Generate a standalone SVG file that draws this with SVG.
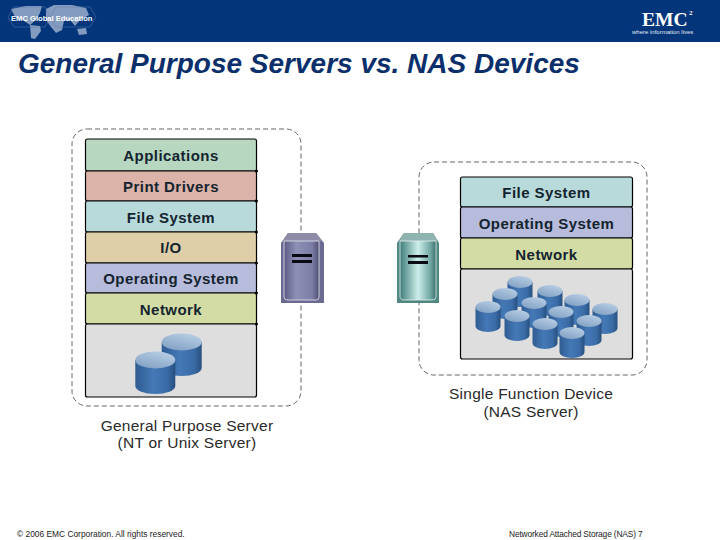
<svg xmlns="http://www.w3.org/2000/svg" xmlns:xlink="http://www.w3.org/1999/xlink" width="720" height="540" viewBox="0 0 720 540">
<style>
.lbl{font:bold 15px "Liberation Sans",Arial,sans-serif;fill:#14242f;text-anchor:middle;letter-spacing:.45px}
.cap{font:15.5px "Liberation Sans",Arial,sans-serif;fill:#2a2a2a;text-anchor:middle;letter-spacing:.25px}
.foot{font:8.4px "Liberation Sans",Arial,sans-serif;fill:#222}
.dash{fill:none;stroke:#666;stroke-width:1;stroke-dasharray:5 3}
.box{stroke:#000;stroke-width:1.2}
.bar{fill:#0a0a14}
.joint{fill:#000}
</style>
<defs>
<linearGradient id="cb" x1="0" x2="1" y1="0" y2="0"><stop offset="0" stop-color="#2f5c92"/><stop offset=".45" stop-color="#4479b6"/><stop offset=".8" stop-color="#3a6ba6"/><stop offset="1" stop-color="#28507f"/></linearGradient>
<linearGradient id="ct" x1="0" x2="0.6" y1="1" y2="0"><stop offset="0" stop-color="#7c9cc0"/><stop offset="1" stop-color="#b4cbe2"/></linearGradient>
<linearGradient id="s1" x1="0" x2="1" y1="0" y2="0"><stop offset="0" stop-color="#5b5b85"/><stop offset=".35" stop-color="#8f90b6"/><stop offset=".8" stop-color="#7c7da6"/><stop offset="1" stop-color="#4f4f72"/></linearGradient>
<linearGradient id="s2" x1="0" x2="1" y1="0" y2="0"><stop offset="0" stop-color="#3f7c78"/><stop offset=".5" stop-color="#cdeeea"/><stop offset=".85" stop-color="#6ea6a2"/><stop offset="1" stop-color="#3c6e6b"/></linearGradient>
<g id="cyl"><path d="M-12.5 0V19A12.5 6 0 0 0 12.5 19V0Z" fill="url(#cb)"/><ellipse rx="12.5" ry="6" fill="url(#ct)"/></g>
<g id="cylL"><path d="M-20 0V26A20 8 0 0 0 20 26V0Z" fill="url(#cb)"/><ellipse rx="20" ry="8.5" fill="url(#ct)"/></g>
</defs>

<g id="header">
<rect width="720" height="42" fill="#03357a"/>
<g id="map" fill="#a3b5d0" opacity=".8">
<path d="M11 9 26 6 42 6 40 13 36 20 30 25 24 21 15 17Z"/>
<path d="M30 25 40 26 41 31 35 39 31 38Z"/>
<path d="M46 9 54 5 72 5 86 8 89 15 80 20 75 26 70 20 64 21 62 30 56 33 51 27 46 20Z"/>
<path d="M77 29 86 28 87 34 79 35Z"/>
</g>
<g fill="none" stroke="#5f7fb0" stroke-width=".5"><path d="M8 17 14 7H45L50 17 45 27H14Z"/><path d="M50 17 56 7H90L96 17 90 27H56Z"/></g>
<text x="11" y="21" style="font:bold 7.6px 'Liberation Sans',Arial,sans-serif;fill:#fff">EMC Global Education</text>
<text x="642" y="25.5" style="font:bold 19.6px 'Liberation Serif','Times New Roman',serif;fill:#fff">EMC</text>
<text x="689" y="15" style="font:bold 7px 'Liberation Serif',serif;fill:#fff">2</text>
<text x="632" y="33.5" style="font:6px 'Liberation Sans',Arial,sans-serif;fill:#e4eaf4">where information lives</text>
</g>

<text id="title" x="18" y="73" style="font:italic bold 28px 'Liberation Sans',Arial,sans-serif;fill:#0b2f6b">General Purpose Servers vs. NAS Devices</text>

<g id="left-frame"><rect class="dash" x="72" y="129" width="229" height="277" rx="15"/></g>
<g id="right-frame"><rect class="dash" x="419" y="162" width="228" height="213" rx="15"/></g>

<g id="left-stack">
<g id="applications"><rect class="box" x="85.5" y="139" width="171" height="32" rx="2" fill="#b7d7c1"/><text class="lbl" x="171" y="161">Applications</text></g>
<g id="print-drivers"><rect class="box" x="85.5" y="171" width="171" height="30" rx="2" fill="#dcb3a8"/><text class="lbl" x="171" y="192">Print Drivers</text></g>
<g id="file-system-l"><rect class="box" x="85.5" y="201" width="171" height="31" rx="2" fill="#b8dada"/><text class="lbl" x="171" y="223">File System</text></g>
<g id="io"><rect class="box" x="85.5" y="232" width="171" height="31" rx="2" fill="#dfcfa9"/><text class="lbl" x="171" y="253">I/O</text></g>
<g id="os-l"><rect class="box" x="85.5" y="263" width="171" height="30" rx="2" fill="#b8bcdc"/><text class="lbl" x="171" y="284">Operating System</text></g>
<g id="network-l"><rect class="box" x="85.5" y="293" width="171" height="31" rx="2" fill="#d4dca6"/><text class="lbl" x="171" y="315">Network</text></g>
<g id="storage-l"><rect class="box" x="85.5" y="324" width="171" height="73" rx="2" fill="#dedede"/>
<use xlink:href="#cylL" href="#cylL" x="181.7" y="342"/><use xlink:href="#cylL" href="#cylL" x="155.3" y="360"/></g>
<g id="joints-l" class="joint"><circle cx="256.5" cy="171" r="1.5"/><circle cx="256.5" cy="201" r="1.5"/><circle cx="256.5" cy="232" r="1.5"/><circle cx="256.5" cy="263" r="1.5"/><circle cx="256.5" cy="293" r="1.5"/><circle cx="256.5" cy="324" r="1.5"/></g>
</g>

<g id="right-stack">
<g id="file-system-r"><rect class="box" x="460.5" y="177" width="172" height="30" rx="2" fill="#b8dada"/><text class="lbl" x="546.5" y="198">File System</text></g>
<g id="os-r"><rect class="box" x="460.5" y="207" width="172" height="31" rx="2" fill="#b8bcdc"/><text class="lbl" x="546.5" y="229">Operating System</text></g>
<g id="network-r"><rect class="box" x="460.5" y="238" width="172" height="31" rx="2" fill="#d4dca6"/><text class="lbl" x="546.5" y="260">Network</text></g>
<g id="storage-r"><rect class="box" x="460.5" y="269" width="172" height="90" rx="2" fill="#dedede"/>
<use href="#cyl" x="520" y="282"/><use href="#cyl" x="550" y="291"/><use href="#cyl" x="505" y="294"/><use href="#cyl" x="577" y="300"/><use href="#cyl" x="534" y="303"/><use href="#cyl" x="605" y="309"/><use href="#cyl" x="488" y="307"/><use href="#cyl" x="561" y="312"/><use href="#cyl" x="517" y="316"/><use href="#cyl" x="589" y="321"/><use href="#cyl" x="545" y="324"/><use href="#cyl" x="572" y="333"/></g>
</g>

<g id="server-left">
<path d="M281 303V243L288 233H316L324 243V303Z" fill="#6b6b92"/><path d="M288 233H316L322 241H283Z" fill="#8c8ca6"/>
<path d="M284 241H319V297Q319 300 316 300H288Q284 300 284 297Z" fill="url(#s1)" stroke="#e8e8f4" stroke-width=".8"/>
<rect class="bar" x="292" y="254" width="20" height="3"/><rect class="bar" x="292" y="260" width="20" height="3"/>
</g>
<g id="server-right">
<path d="M397 303V243L404 233H433L439 243V303Z" fill="#4f8783"/><path d="M404 233H433L438 241H399Z" fill="#8fb3ae"/>
<path d="M400 241H436V297Q436 300 432 300H405Q400 300 400 297Z" fill="url(#s2)" stroke="#e8f4f2" stroke-width=".8"/>
<rect class="bar" x="408" y="255" width="20" height="2.5"/><rect class="bar" x="408" y="261" width="20" height="3"/>
</g>

<g id="captions">
<text class="cap" x="187" y="431">General Purpose Server</text>
<text class="cap" x="187" y="448">(NT or Unix Server)</text>
<text class="cap" x="531" y="399">Single Function Device</text>
<text class="cap" x="531" y="417">(NAS Server)</text>
</g>
<g id="footer">
<text class="foot" x="17" y="537">© 2006 EMC Corporation. All rights reserved.</text>
<text class="foot" x="509" y="537" textLength="127">Networked Attached Storage (NAS)</text>
<text class="foot" x="638" y="537">7</text>
</g>
</svg>
